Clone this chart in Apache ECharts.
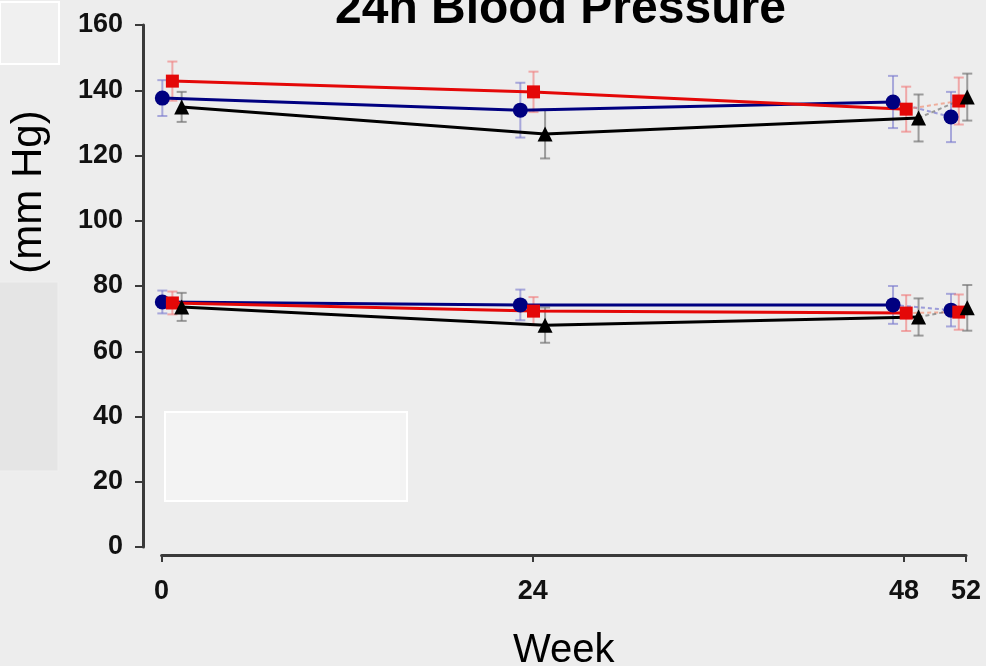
<!DOCTYPE html>
<html>
<head>
<meta charset="utf-8">
<script src="https://cdn.jsdelivr.net/npm/echarts@6/dist/echarts.min.js"></script>
<style>
  html, body { margin: 0; padding: 0; background: #ededed; }
  #chart { width: 986px; height: 666px; }
</style>
</head>
<body>
<div id="chart"></div>
<script>
// ---- data ----
var weekTicks = [0, 24, 48, 52];
var yTicks = [0, 20, 40, 60, 80, 100, 120, 140, 160];

// x positions of each group's markers (weeks, slightly jittered in the original)
var weeksBlue  = [0.05, 23.2, 47.3, 51.05];
var weeksRed   = [0.7, 24.05, 48.15, 51.55];
var weeksBlack = [1.3, 24.8, 48.95, 52.1];

// systolic means and error (+/-)
var blueSys  = [137.6, 133.9, 136.4, 131.8];
var blueSysErr  = [5.5, 8.4, 8.0, 7.7];
var redSys   = [142.8, 139.5, 134.2, 136.7];
var redSysErr   = [6.0, 6.2, 6.9, 7.2];
var blackSys = [134.9, 126.6, 131.5, 137.9];
var blackSysErr = [4.6, 7.5, 7.2, 7.2];

// diastolic means and error (+/-)
var blueDia  = [75.1, 74.2, 74.2, 72.6];
var blueDiaErr  = [3.5, 4.7, 5.8, 5.0];
var redDia   = [74.8, 72.3, 71.7, 72.0];
var redDiaErr   = [3.5, 4.3, 5.5, 5.4];
var blackDia = [73.6, 68.0, 70.5, 73.3];
var blackDiaErr = [4.3, 5.4, 5.7, 7.0];

// ---- helpers ----
function pts(xs, ys) { return xs.map(function (x, i) { return [x, ys[i]]; }); }
function errPts(xs, ys, es) { return xs.map(function (x, i) { return [x, ys[i] - es[i], ys[i] + es[i]]; }); }

function errSeries(xs, ys, es, color) {
  return {
    type: 'custom', xAxisIndex: 0, yAxisIndex: 0, z: 1, silent: true,
    data: errPts(xs, ys, es),
    encode: { x: 0, y: [1, 2] },
    renderItem: function (params, api) {
      var lo = api.coord([api.value(0), api.value(1)]);
      var hi = api.coord([api.value(0), api.value(2)]);
      var cw = 5;
      var st = { stroke: color, lineWidth: 2 };
      return {
        type: 'group',
        children: [
          { type: 'line', shape: { x1: lo[0], y1: lo[1], x2: hi[0], y2: hi[1] }, style: st },
          { type: 'line', shape: { x1: lo[0] - cw, y1: lo[1], x2: lo[0] + cw, y2: lo[1] }, style: st },
          { type: 'line', shape: { x1: hi[0] - cw, y1: hi[1], x2: hi[0] + cw, y2: hi[1] }, style: st }
        ]
      };
    }
  };
}

function solidSeries(name, xs, ys, color, symbol, size) {
  return {
    name: name, type: 'line', xAxisIndex: 0, yAxisIndex: 0, z: 3,
    data: pts(xs.slice(0, 3), ys.slice(0, 3)),
    symbol: symbol, symbolSize: size, showSymbol: true,
    lineStyle: { color: color, width: 3 },
    itemStyle: { color: color, opacity: 1 },
    animation: false
  };
}
function dashSeries(xs, ys, color) {
  return {
    type: 'line', xAxisIndex: 0, yAxisIndex: 0, z: 2,
    data: pts(xs.slice(2, 4), ys.slice(2, 4)),
    symbol: 'none',
    lineStyle: { color: color, width: 2, type: [4, 3] },
    animation: false
  };
}
function lastPoint(xs, ys, color, symbol, size) {
  return {
    type: 'scatter', xAxisIndex: 0, yAxisIndex: 0, z: 4,
    data: [[xs[3], ys[3]]],
    symbol: symbol, symbolSize: size,
    itemStyle: { color: color, opacity: 1 },
    animation: false
  };
}

var BLUE = '#000080', RED = '#e40808', BLACK = '#000000';
var BLUE_E = 'rgba(120,120,205,0.6)', RED_E = 'rgba(240,120,120,0.6)', BLACK_E = 'rgba(110,110,110,0.65)';

var series = [];
[[blueSys, blueSysErr, blueDia, blueDiaErr, weeksBlue, BLUE, BLUE_E],
 [redSys, redSysErr, redDia, redDiaErr, weeksRed, RED, RED_E],
 [blackSys, blackSysErr, blackDia, blackDiaErr, weeksBlack, BLACK, BLACK_E]
].forEach(function (g) {
  series.push(errSeries(g[4], g[0], g[1], g[6]));
  series.push(errSeries(g[4], g[2], g[3], g[6]));
});
[[blueSys, blueDia, weeksBlue, BLUE, 'rgba(90,90,200,0.55)', 'circle', 15],
 [redSys, redDia, weeksRed, RED, 'rgba(240,130,100,0.6)', 'rect', 13],
 [blackSys, blackDia, weeksBlack, BLACK, 'rgba(100,100,100,0.6)', 'triangle', 15]
].forEach(function (g) {
  series.push(dashSeries(g[2], g[0], g[4]));
  series.push(dashSeries(g[2], g[1], g[4]));
  series.push(solidSeries('sys', g[2], g[0], g[3], g[5], g[6]));
  series.push(solidSeries('dia', g[2], g[1], g[3], g[5], g[6]));
  series.push(lastPoint(g[2], g[0], g[3], g[5], g[6]));
  series.push(lastPoint(g[2], g[1], g[3], g[5], g[6]));
});

var chart = echarts.init(document.getElementById('chart'), null, { renderer: 'canvas' });
chart.setOption({
  backgroundColor: '#ededed',
  animation: false,
  title: {
    text: '24h Blood Pressure', left: 330, top: -19,
    textStyle: { fontFamily: 'Liberation Sans', fontWeight: 'bold', fontSize: 48, color: '#000' }
  },
  graphic: [
    { type: 'rect', shape: { x: 0, y: 2, width: 59, height: 62 }, style: { fill: '#f0f0f0', stroke: '#ffffff', lineWidth: 2 }, z: -1 },
    { type: 'rect', shape: { x: -2, y: 282, width: 60, height: 189 }, style: { fill: '#e5e5e5', stroke: '#efefef', lineWidth: 1 }, z: -1 },
    { type: 'rect', shape: { x: 165, y: 412, width: 242, height: 89 }, style: { fill: '#f3f3f3', stroke: '#ffffff', lineWidth: 2 }, z: -1 },
    { type: 'text', x: 29, y: 192, rotation: Math.PI / 2, z: 5,
      style: { text: '(mm Hg)', fill: '#000', font: '42px "Liberation Sans"', align: 'center', verticalAlign: 'middle' } }
  ],
  grid: [
    { left: 143, right: 11, top: 25, bottom: 119, outerBoundsMode: 'none' },
    { left: 161.6, right: 20, top: 555, height: 0, outerBoundsMode: 'none' }
  ],
  xAxis: [
    { gridIndex: 0, type: 'value', min: -1.2, max: 52.6, show: false },
    {
      gridIndex: 1, type: 'value', min: 0, max: 52,
      axisLine: { show: true, onZero: false, lineStyle: { color: '#3a3a3a', width: 3 } },
      axisTick: { show: true, customValues: weekTicks, length: 7, lineStyle: { color: '#3a3a3a', width: 2 } },
      axisLabel: { customValues: weekTicks, margin: 23, color: '#111', fontFamily: 'Liberation Sans', fontWeight: 'bold', fontSize: 27 },
      splitLine: { show: false },
      name: 'Week', nameLocation: 'middle', nameGap: 76,
      nameTextStyle: { fontFamily: 'Liberation Sans', fontSize: 40, color: '#000' }
    }
  ],
  yAxis: [
    {
      gridIndex: 0, type: 'value', min: 0, max: 160, interval: 20,
      axisLine: { show: true, onZero: false, lineStyle: { color: '#3a3a3a', width: 3 } },
      axisTick: { show: true, inside: false, length: 8, lineStyle: { color: '#3a3a3a', width: 2 } },
      axisLabel: { margin: 20, color: '#111', fontFamily: 'Liberation Sans', fontWeight: 'bold', fontSize: 27 },
      splitLine: { show: false }
    },
    { gridIndex: 1, type: 'value', show: false }
  ],
  series: series
});
</script>
</body>
</html>
